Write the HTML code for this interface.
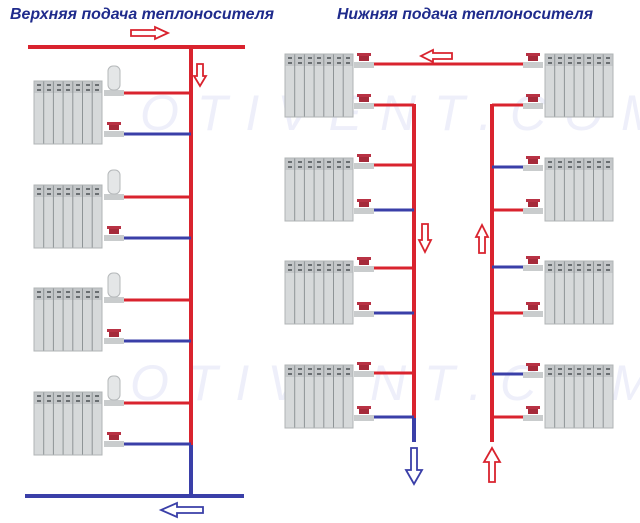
<!DOCTYPE html>
<html><head><meta charset="utf-8"><style>
html,body{margin:0;padding:0;background:#fff;}
svg{display:block;}
</style></head><body>
<svg width="640" height="523" viewBox="0 0 640 523" xmlns="http://www.w3.org/2000/svg">
<defs>
<g id="rad">
  <rect x="0" y="0" width="68" height="63" fill="#d6d9da"/>
  <rect x="0" y="0" width="68" height="12" fill="#c4c7c9"/>
  <g stroke="#8e9496" stroke-width="1">
    <line x1="9.7" y1="0" x2="9.7" y2="63"/><line x1="19.4" y1="0" x2="19.4" y2="63"/>
    <line x1="29.1" y1="0" x2="29.1" y2="63"/><line x1="38.8" y1="0" x2="38.8" y2="63"/>
    <line x1="48.5" y1="0" x2="48.5" y2="63"/><line x1="58.2" y1="0" x2="58.2" y2="63"/>
  </g>
  <g fill="#6a6f72">
    <rect x="3" y="3" width="4" height="2"/><rect x="13" y="3" width="4" height="2"/><rect x="23" y="3" width="4" height="2"/><rect x="32" y="3" width="4" height="2"/><rect x="42" y="3" width="4" height="2"/><rect x="52" y="3" width="4" height="2"/><rect x="61" y="3" width="4" height="2"/>
    <rect x="3" y="8" width="4" height="2"/><rect x="13" y="8" width="4" height="2"/><rect x="23" y="8" width="4" height="2"/><rect x="32" y="8" width="4" height="2"/><rect x="42" y="8" width="4" height="2"/><rect x="52" y="8" width="4" height="2"/><rect x="61" y="8" width="4" height="2"/>
  </g>
  <rect x="0" y="0" width="68" height="63" fill="none" stroke="#b0b4b6" stroke-width="1"/>
</g>
<g id="valve">
  <rect x="0" y="2" width="20" height="6" fill="#c9cccd"/>
  <rect x="5" y="-6" width="10" height="7" fill="#a52a3a"/>
  <rect x="3" y="-7" width="14" height="3" fill="#b83244"/>
</g>
<g id="thermo">
  <rect x="0" y="2" width="20" height="6" fill="#c9cccd"/>
  <rect x="4" y="-22" width="12" height="24" rx="5" fill="#e4e6e7" stroke="#b5b8ba"/>
</g>
</defs>

<text x="10" y="19" font-family="Liberation Sans, sans-serif" font-size="16" font-weight="bold" font-style="italic" fill="#1f2b8c" textLength="264" lengthAdjust="spacingAndGlyphs">Верхняя подача теплоносителя</text>
<text x="337" y="19" font-family="Liberation Sans, sans-serif" font-size="16" font-weight="bold" font-style="italic" fill="#1f2b8c" textLength="256" lengthAdjust="spacingAndGlyphs">Нижняя подача теплоносителя</text>

<g font-family="Liberation Sans, sans-serif" font-size="50" font-style="italic" fill="#eeeffa" letter-spacing="18">
<text x="140" y="130">OTIVENT.COM</text>
<text x="130" y="400">OTIVENT.COM</text>
</g>

<!-- LEFT SCHEME -->
<line x1="28" y1="47" x2="245" y2="47" stroke="#d9232e" stroke-width="4"/>
<line x1="191" y1="47" x2="191" y2="445" stroke="#d9232e" stroke-width="4"/>
<line x1="191" y1="445" x2="191" y2="496" stroke="#3a3fa8" stroke-width="4"/>
<line x1="25" y1="496" x2="244" y2="496" stroke="#3a3fa8" stroke-width="4"/>

<g stroke-width="3">
<line x1="120" y1="93" x2="191" y2="93" stroke="#d9232e"/>
<line x1="120" y1="134" x2="191" y2="134" stroke="#3a3fa8"/>
<line x1="120" y1="197" x2="191" y2="197" stroke="#d9232e"/>
<line x1="120" y1="238" x2="191" y2="238" stroke="#3a3fa8"/>
<line x1="120" y1="300" x2="191" y2="300" stroke="#d9232e"/>
<line x1="120" y1="341" x2="191" y2="341" stroke="#3a3fa8"/>
<line x1="120" y1="403" x2="191" y2="403" stroke="#d9232e"/>
<line x1="120" y1="444" x2="191" y2="444" stroke="#3a3fa8"/>
</g>
<use href="#rad" x="34" y="81"/><use href="#rad" x="34" y="185"/><use href="#rad" x="34" y="288"/><use href="#rad" x="34" y="392"/>
<use href="#thermo" x="104" y="88"/><use href="#thermo" x="104" y="192"/><use href="#thermo" x="104" y="295"/><use href="#thermo" x="104" y="398"/>
<use href="#valve" x="104" y="129"/><use href="#valve" x="104" y="233"/><use href="#valve" x="104" y="336"/><use href="#valve" x="104" y="439"/>

<!-- arrows left -->
<path d="M131 30 H155 V27 L168 33 L155 39 V36 H131 Z" fill="#fff" stroke="#d9232e" stroke-width="1.8"/>
<path d="M197 64 V76 H194 L200 86 L206 76 H203 V64 Z" fill="#fff" stroke="#d9232e" stroke-width="1.8"/>
<path d="M203 507 H177 V503 L161 510 L177 517 V513 H203 Z" fill="#fff" stroke="#3a3fa8" stroke-width="1.8"/>

<!-- RIGHT SCHEME -->
<line x1="372" y1="64" x2="524" y2="64" stroke="#d9232e" stroke-width="3"/>
<line x1="414" y1="104" x2="414" y2="418" stroke="#d9232e" stroke-width="4"/>
<line x1="414" y1="418" x2="414" y2="442" stroke="#3a3fa8" stroke-width="4"/>
<line x1="492" y1="104" x2="492" y2="442" stroke="#d9232e" stroke-width="4"/>
<g stroke-width="3">
<line x1="372" y1="105" x2="414" y2="105" stroke="#d9232e"/>
<line x1="372" y1="165" x2="414" y2="165" stroke="#d9232e"/>
<line x1="372" y1="210" x2="414" y2="210" stroke="#3a3fa8"/>
<line x1="372" y1="268" x2="414" y2="268" stroke="#d9232e"/>
<line x1="372" y1="313" x2="414" y2="313" stroke="#3a3fa8"/>
<line x1="372" y1="373" x2="414" y2="373" stroke="#d9232e"/>
<line x1="372" y1="417" x2="414" y2="417" stroke="#3a3fa8"/>
<line x1="492" y1="105" x2="524" y2="105" stroke="#d9232e"/>
<line x1="492" y1="167" x2="524" y2="167" stroke="#3a3fa8"/>
<line x1="492" y1="210" x2="524" y2="210" stroke="#d9232e"/>
<line x1="492" y1="267" x2="524" y2="267" stroke="#3a3fa8"/>
<line x1="492" y1="313" x2="524" y2="313" stroke="#d9232e"/>
<line x1="492" y1="374" x2="524" y2="374" stroke="#3a3fa8"/>
<line x1="492" y1="417" x2="524" y2="417" stroke="#d9232e"/>
</g>
<use href="#rad" x="285" y="54"/><use href="#rad" x="285" y="158"/><use href="#rad" x="285" y="261"/><use href="#rad" x="285" y="365"/>
<use href="#rad" x="545" y="54"/><use href="#rad" x="545" y="158"/><use href="#rad" x="545" y="261"/><use href="#rad" x="545" y="365"/>
<g>
<use href="#valve" x="354" y="60"/><use href="#valve" x="354" y="101"/>
<use href="#valve" x="354" y="161"/><use href="#valve" x="354" y="206"/>
<use href="#valve" x="354" y="264"/><use href="#valve" x="354" y="309"/>
<use href="#valve" x="354" y="369"/><use href="#valve" x="354" y="413"/>
<use href="#valve" x="523" y="60"/><use href="#valve" x="523" y="101"/>
<use href="#valve" x="523" y="163"/><use href="#valve" x="523" y="206"/>
<use href="#valve" x="523" y="263"/><use href="#valve" x="523" y="309"/>
<use href="#valve" x="523" y="370"/><use href="#valve" x="523" y="413"/>
</g>
<!-- arrows right -->
<path d="M452 53 H433 V50 L421 56 L433 62 V59 H452 Z" fill="#fff" stroke="#d9232e" stroke-width="1.8"/>
<path d="M422 224 V240 H419 L425 252 L431 240 H428 V224 Z" fill="#fff" stroke="#d9232e" stroke-width="1.8"/>
<path d="M479 253 V237 H476 L482 225 L488 237 H485 V253 Z" fill="#fff" stroke="#d9232e" stroke-width="1.8"/>
<path d="M411 448 V470 H406 L414 484 L422 470 H417 V448 Z" fill="#fff" stroke="#3a3fa8" stroke-width="1.8"/>
<path d="M489 482 V462 H484 L492 448 L500 462 H495 V482 Z" fill="#fff" stroke="#d9232e" stroke-width="1.8"/>
</svg>
</body></html>
